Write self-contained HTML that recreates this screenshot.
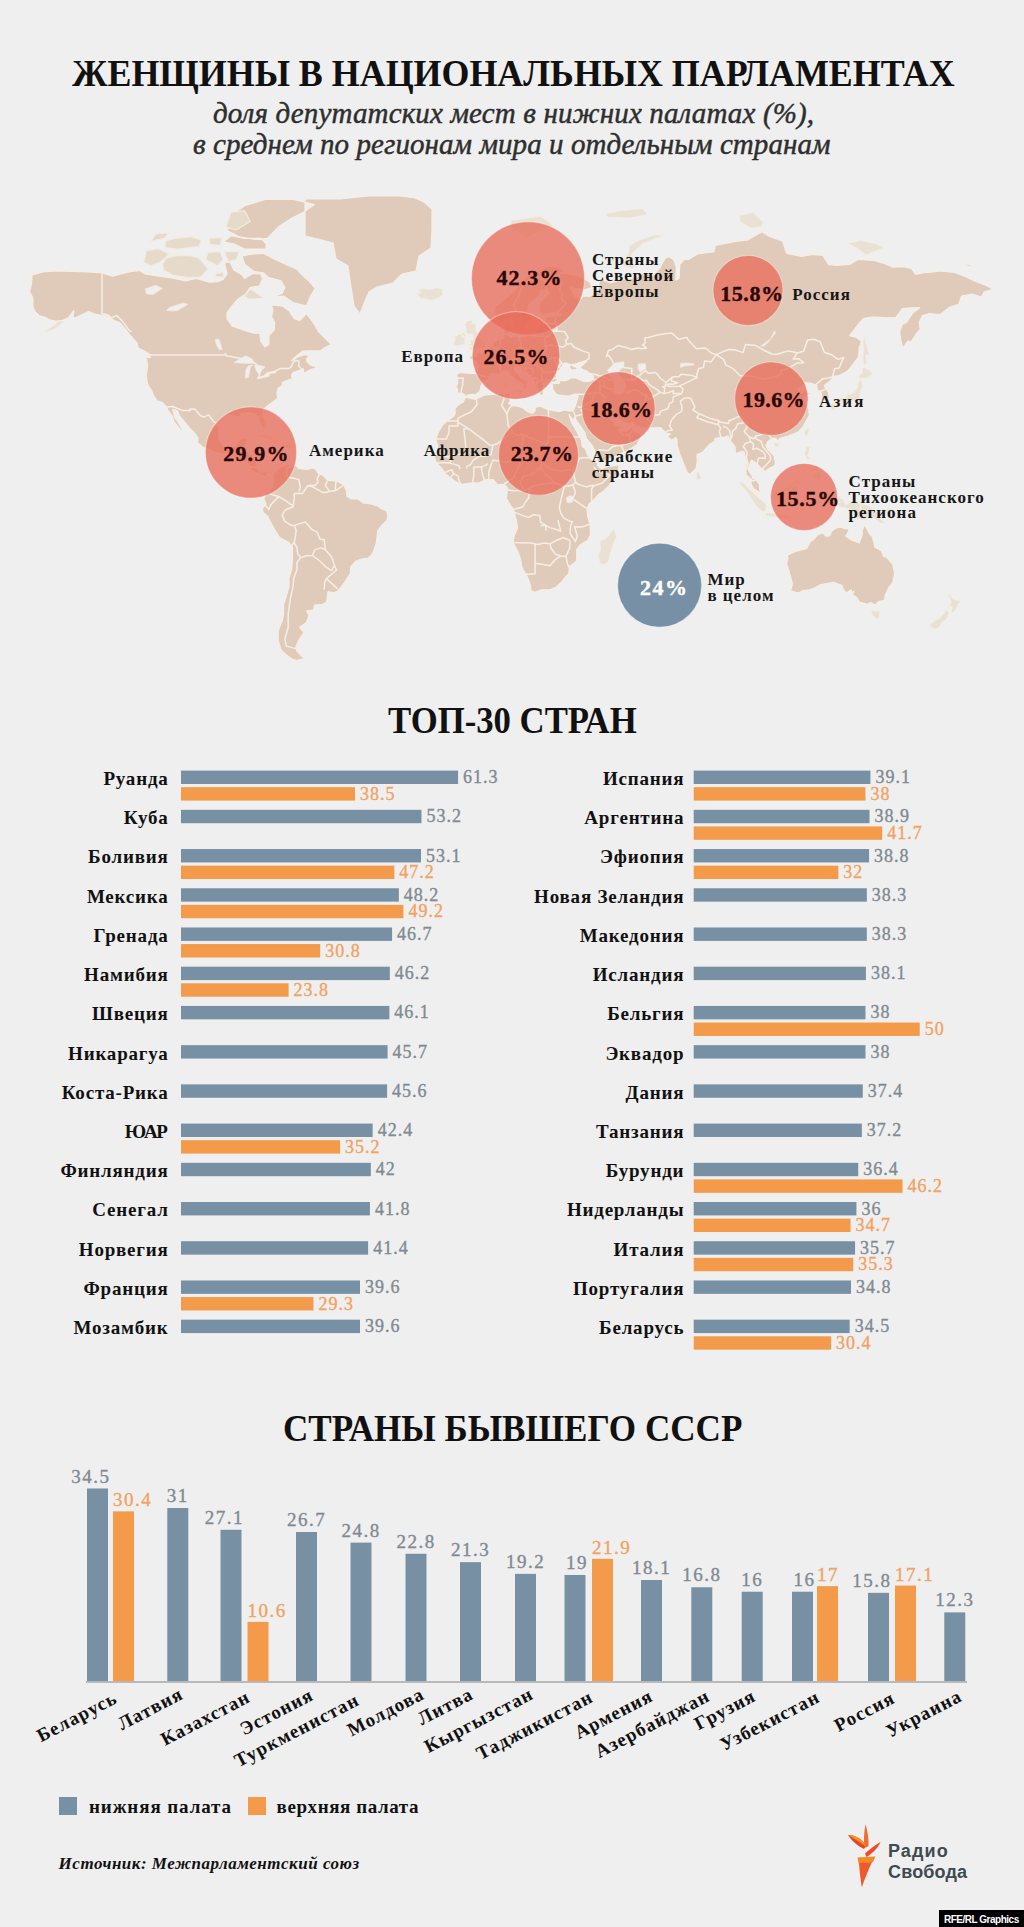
<!DOCTYPE html>
<html><head><meta charset="utf-8"><title>Женщины в национальных парламентах</title><style>
*{margin:0;padding:0;box-sizing:border-box}
html,body{width:1024px;height:1927px;background:#efefef;overflow:hidden}
body{position:relative}
.map{position:absolute;left:0;top:0}
.t{position:absolute;white-space:nowrap;line-height:0}
.bx{position:absolute}
.v{-webkit-text-stroke:0.35px currentColor}
</style></head><body>
<svg class="map" width="1024" height="1927" viewBox="0 0 1024 1927"><rect x="181" y="770.60" width="277.08" height="13.4" fill="#7890a3"/><rect x="181" y="787.20" width="174.02" height="13.4" fill="#f39a4b"/><rect x="181" y="809.82" width="240.46" height="13.4" fill="#7890a3"/><rect x="181" y="849.04" width="240.01" height="13.4" fill="#7890a3"/><rect x="181" y="865.64" width="213.34" height="13.4" fill="#f39a4b"/><rect x="181" y="888.26" width="217.86" height="13.4" fill="#7890a3"/><rect x="181" y="904.86" width="222.38" height="13.4" fill="#f39a4b"/><rect x="181" y="927.48" width="211.08" height="13.4" fill="#7890a3"/><rect x="181" y="944.08" width="139.22" height="13.4" fill="#f39a4b"/><rect x="181" y="966.70" width="208.82" height="13.4" fill="#7890a3"/><rect x="181" y="983.30" width="107.58" height="13.4" fill="#f39a4b"/><rect x="181" y="1005.92" width="208.37" height="13.4" fill="#7890a3"/><rect x="181" y="1045.14" width="206.56" height="13.4" fill="#7890a3"/><rect x="181" y="1084.36" width="206.11" height="13.4" fill="#7890a3"/><rect x="181" y="1123.58" width="191.65" height="13.4" fill="#7890a3"/><rect x="181" y="1140.18" width="159.10" height="13.4" fill="#f39a4b"/><rect x="181" y="1162.80" width="189.84" height="13.4" fill="#7890a3"/><rect x="181" y="1202.02" width="188.94" height="13.4" fill="#7890a3"/><rect x="181" y="1241.24" width="187.13" height="13.4" fill="#7890a3"/><rect x="181" y="1280.46" width="178.99" height="13.4" fill="#7890a3"/><rect x="181" y="1297.06" width="132.44" height="13.4" fill="#f39a4b"/><rect x="181" y="1319.68" width="178.99" height="13.4" fill="#7890a3"/><rect x="693.7" y="770.60" width="176.73" height="13.4" fill="#7890a3"/><rect x="693.7" y="787.20" width="171.76" height="13.4" fill="#f39a4b"/><rect x="693.7" y="809.82" width="175.83" height="13.4" fill="#7890a3"/><rect x="693.7" y="826.42" width="188.48" height="13.4" fill="#f39a4b"/><rect x="693.7" y="849.04" width="175.38" height="13.4" fill="#7890a3"/><rect x="693.7" y="865.64" width="144.64" height="13.4" fill="#f39a4b"/><rect x="693.7" y="888.26" width="173.12" height="13.4" fill="#7890a3"/><rect x="693.7" y="927.48" width="173.12" height="13.4" fill="#7890a3"/><rect x="693.7" y="966.70" width="172.21" height="13.4" fill="#7890a3"/><rect x="693.7" y="1005.92" width="171.76" height="13.4" fill="#7890a3"/><rect x="693.7" y="1022.52" width="226.00" height="13.4" fill="#f39a4b"/><rect x="693.7" y="1045.14" width="171.76" height="13.4" fill="#7890a3"/><rect x="693.7" y="1084.36" width="169.05" height="13.4" fill="#7890a3"/><rect x="693.7" y="1123.58" width="168.14" height="13.4" fill="#7890a3"/><rect x="693.7" y="1162.80" width="164.53" height="13.4" fill="#7890a3"/><rect x="693.7" y="1179.40" width="208.82" height="13.4" fill="#f39a4b"/><rect x="693.7" y="1202.02" width="162.72" height="13.4" fill="#7890a3"/><rect x="693.7" y="1218.62" width="156.84" height="13.4" fill="#f39a4b"/><rect x="693.7" y="1241.24" width="161.36" height="13.4" fill="#7890a3"/><rect x="693.7" y="1257.84" width="159.56" height="13.4" fill="#f39a4b"/><rect x="693.7" y="1280.46" width="157.30" height="13.4" fill="#7890a3"/><rect x="693.7" y="1319.68" width="155.94" height="13.4" fill="#7890a3"/><rect x="693.7" y="1336.28" width="137.41" height="13.4" fill="#f39a4b"/><rect x="86" y="1681" width="881" height="2" fill="#b9b9b9"/><rect x="87" y="1488.49" width="21" height="192.51" fill="#7890a3"/><rect x="113" y="1511.37" width="21" height="169.63" fill="#f39a4b"/><rect x="167.3" y="1508.02" width="21" height="172.98" fill="#7890a3"/><rect x="220.5" y="1529.78" width="21" height="151.22" fill="#7890a3"/><rect x="247.5" y="1621.85" width="21" height="59.15" fill="#f39a4b"/><rect x="296" y="1532.01" width="21" height="148.99" fill="#7890a3"/><rect x="350.5" y="1542.62" width="21" height="138.38" fill="#7890a3"/><rect x="405.5" y="1553.78" width="21" height="127.22" fill="#7890a3"/><rect x="460" y="1562.15" width="21" height="118.85" fill="#7890a3"/><rect x="515" y="1573.86" width="21" height="107.14" fill="#7890a3"/><rect x="564.5" y="1574.98" width="21" height="106.02" fill="#7890a3"/><rect x="592" y="1558.80" width="21" height="122.20" fill="#f39a4b"/><rect x="641" y="1580.00" width="21" height="101.00" fill="#7890a3"/><rect x="691.3" y="1587.26" width="21" height="93.74" fill="#7890a3"/><rect x="741.7" y="1591.72" width="21" height="89.28" fill="#7890a3"/><rect x="792" y="1591.72" width="21" height="89.28" fill="#7890a3"/><rect x="817" y="1586.14" width="21" height="94.86" fill="#f39a4b"/><rect x="868" y="1592.84" width="21" height="88.16" fill="#7890a3"/><rect x="895" y="1585.58" width="21" height="95.42" fill="#f39a4b"/><rect x="944.3" y="1612.37" width="21" height="68.63" fill="#7890a3"/></svg>
<div class="t" style="top:52.03px;font:normal bold 37px 'Liberation Serif',serif;color:#111;left:72.00px;transform-origin:0 0;transform:scaleX(0.9703);">ЖЕНЩИНЫ В НАЦИОНАЛЬНЫХ ПАРЛАМЕНТАХ</div>
<div class="t" style="top:96.56px;font:italic normal 29px 'Liberation Serif',serif;color:#2e2e2e;letter-spacing:0.15px;left:213.00px;-webkit-text-stroke:0.45px #2e2e2e;">доля депутатских мест в нижних палатах (%),</div>
<div class="t" style="top:128.16px;font:italic normal 29px 'Liberation Serif',serif;color:#2e2e2e;letter-spacing:0.07px;left:193.00px;-webkit-text-stroke:0.45px #2e2e2e;">в среднем по регионам мира и отдельным странам</div>
<svg class="map" width="1024" height="700" viewBox="0 0 1024 700">
<path d="M29.4,291.5 L30.7,287.5 L31.5,283.1 L32.1,274.8 L42.8,272.0 L56.3,271.0 L72.4,271.5 L88.6,272.0 L102.0,272.9 L112.8,276.2 L120.8,273.9 L131.6,271.5 L139.7,270.6 L145.1,273.9 L158.5,276.2 L172.0,278.0 L185.4,280.8 L196.2,278.5 L209.6,282.2 L217.7,281.7 L223.1,279.4 L227.1,273.9 L224.4,262.8 L229.8,261.8 L233.8,270.1 L241.9,274.8 L244.6,278.5 L252.7,273.4 L260.7,273.9 L262.6,278.5 L259.4,286.2 L250.0,287.5 L245.9,294.1 L237.9,299.2 L232.5,305.4 L227.1,312.7 L227.1,318.6 L232.5,326.3 L243.2,330.0 L252.7,333.0 L259.9,333.4 L260.7,341.0 L264.8,347.0 L268.8,344.6 L268.8,335.6 L274.2,330.0 L274.7,322.5 L271.5,316.6 L272.8,310.7 L271.5,305.0 L282.2,305.8 L289.0,310.7 L294.3,318.6 L299.7,320.5 L306.5,313.5 L314.5,324.4 L318.6,331.9 L328.0,341.0 L331.5,344.6 L325.3,347.4 L319.9,350.9 L309.1,350.9 L302.4,351.2 L295.7,356.7 L291.7,360.7 L298.4,356.7 L303.8,355.0 L307.8,355.0 L308.6,356.7 L306.5,358.7 L307.0,361.7 L310.5,365.1 L315.9,366.4 L319.9,364.4 L319.9,366.4 L310.5,369.7 L303.8,373.2 L303.2,368.4 L301.1,369.7 L293.0,372.6 L291.4,376.1 L293.0,378.7 L289.0,379.9 L282.2,382.5 L282.2,385.9 L278.2,388.1 L276.9,393.6 L277.9,398.1 L274.2,401.1 L268.8,405.0 L263.4,409.4 L262.6,414.4 L265.6,423.0 L265.0,428.1 L262.9,427.8 L259.1,421.5 L258.6,417.2 L255.3,414.4 L250.0,413.2 L244.6,412.9 L240.5,413.8 L241.4,417.0 L236.5,416.4 L229.8,415.2 L225.8,416.4 L219.8,421.0 L219.0,426.4 L218.5,431.4 L219.0,438.4 L221.7,443.7 L225.8,446.4 L227.6,447.5 L232.5,446.4 L236.5,445.6 L238.1,441.2 L238.4,439.8 L244.6,438.4 L247.8,438.4 L245.9,443.9 L244.0,446.7 L243.8,453.5 L250.0,453.8 L255.3,454.8 L257.5,456.2 L256.7,462.9 L256.1,467.0 L259.4,471.0 L263.4,472.8 L267.4,471.0 L272.8,473.4 L273.4,475.5 L270.9,474.2 L267.4,472.8 L266.1,476.8 L262.1,475.0 L258.0,474.2 L250.8,469.9 L250.5,467.0 L245.9,461.9 L240.5,460.2 L235.2,458.9 L231.1,454.8 L227.1,452.9 L221.7,454.3 L216.3,452.7 L209.6,449.9 L202.9,447.2 L197.5,442.6 L198.0,438.1 L195.1,433.7 L189.4,427.8 L184.1,421.5 L179.5,415.8 L177.3,410.6 L172.8,409.4 L174.6,417.2 L178.7,423.0 L182.7,430.0 L186.7,434.2 L184.6,432.8 L180.0,429.2 L174.1,421.5 L172.0,415.8 L167.9,410.0 L166.0,406.5 L162.5,402.6 L156.9,400.8 L153.4,395.1 L151.8,391.1 L148.3,385.9 L146.9,381.2 L146.4,374.8 L147.7,365.1 L145.9,357.0 L150.4,357.7 L149.9,354.6 L145.1,351.6 L138.3,348.1 L137.0,342.8 L130.3,335.6 L126.2,330.0 L119.5,322.5 L114.1,320.5 L106.0,315.5 L96.6,314.7 L88.6,311.5 L81.8,314.7 L76.5,317.4 L73.0,317.8 L73.8,310.7 L68.4,317.8 L61.7,320.9 L56.3,321.3 L49.6,319.8 L45.0,317.4 L38.8,315.5 L34.8,311.5 L32.6,305.4 L33.1,300.4 L32.1,296.2 L30.5,293.6Z M272.8,473.4 L276.9,471.0 L278.2,468.3 L280.9,467.0 L284.9,465.6 L288.2,463.2 L289.5,465.6 L288.2,468.3 L290.3,467.5 L293.0,464.3 L297.0,466.2 L298.4,468.3 L306.5,469.4 L313.2,468.0 L315.9,469.6 L318.6,473.6 L322.6,475.0 L328.0,480.3 L336.0,480.8 L341.4,483.5 L344.1,485.6 L346.8,491.4 L346.8,496.2 L350.8,498.8 L357.6,498.8 L362.9,502.8 L371.0,503.9 L377.7,506.0 L381.8,508.9 L386.6,510.8 L387.7,515.0 L387.2,520.1 L381.8,525.4 L377.7,530.8 L376.4,543.0 L374.5,548.5 L372.4,554.0 L368.3,558.2 L361.6,559.0 L356.2,561.0 L350.8,566.6 L350.3,573.7 L345.5,581.0 L340.1,588.3 L337.4,591.3 L333.4,592.8 L328.0,591.6 L327.4,596.7 L326.6,601.9 L322.6,604.3 L314.5,605.0 L313.7,609.9 L306.5,611.2 L309.1,615.3 L306.5,622.4 L299.7,627.3 L303.8,632.3 L298.4,640.8 L295.7,647.8 L297.0,651.4 L302.4,656.8 L305.6,658.3 L301.1,659.4 L297.0,660.5 L291.7,658.7 L286.3,655.0 L280.9,649.6 L278.2,640.8 L278.2,630.7 L282.2,620.8 L283.6,614.4 L283.6,605.0 L286.3,595.8 L289.0,586.8 L289.0,578.0 L291.7,569.4 L292.5,558.2 L292.5,547.1 L289.0,542.5 L279.6,537.6 L276.1,532.2 L271.5,524.1 L267.4,516.1 L262.9,512.1 L262.6,508.1 L266.1,504.1 L263.7,498.8 L266.1,494.3 L268.8,492.2 L270.1,489.6 L272.8,485.6 L273.4,479.0Z M465.4,397.2 L475.9,399.3 L484.0,395.1 L494.8,394.2 L505.5,393.0 L510.9,393.6 L509.5,396.6 L510.4,401.1 L508.7,403.2 L512.2,405.6 L517.6,406.2 L522.5,407.6 L527.0,411.4 L532.4,413.5 L535.1,410.9 L535.1,407.6 L540.5,405.9 L544.0,407.9 L548.5,409.7 L559.3,411.7 L564.7,410.0 L568.2,410.9 L573.3,410.6 L575.2,415.8 L573.6,420.7 L569.0,414.6 L571.4,422.1 L576.8,431.4 L581.4,439.8 L582.2,446.7 L585.1,448.0 L587.6,454.8 L592.1,459.4 L597.8,462.9 L597.5,465.6 L601.0,468.6 L607.7,466.7 L619.3,464.8 L618.5,468.3 L618.0,472.3 L613.1,480.3 L609.1,485.6 L603.7,490.9 L598.3,494.9 L592.9,500.7 L588.9,504.1 L587.0,509.4 L587.6,516.1 L590.0,524.1 L590.5,534.9 L587.6,540.3 L580.8,544.4 L576.5,549.8 L576.8,555.4 L576.8,561.0 L569.8,566.3 L568.7,573.7 L564.7,578.0 L562.0,581.8 L556.6,586.8 L550.2,589.8 L541.8,589.8 L535.1,592.2 L530.8,590.7 L530.5,585.4 L527.8,578.0 L525.7,574.0 L522.2,568.0 L520.3,558.2 L517.6,551.2 L513.0,542.5 L514.4,534.9 L517.6,528.1 L516.3,520.1 L514.1,512.1 L513.6,509.4 L510.9,506.3 L506.3,498.1 L506.9,493.6 L507.7,488.3 L504.2,484.3 L500.1,484.5 L497.4,484.8 L493.4,479.5 L486.7,479.5 L478.6,483.0 L473.2,482.7 L461.1,484.5 L455.7,481.6 L450.4,477.9 L445.5,473.6 L440.9,467.5 L436.4,463.2 L434.2,457.0 L436.9,453.5 L437.7,445.3 L435.6,439.8 L438.3,432.3 L442.3,425.5 L446.3,421.3 L454.4,415.8 L455.2,412.9 L454.9,408.5 L458.4,404.7 L463.0,402.3Z M466.2,396.6 L464.1,394.2 L461.1,393.0 L457.4,393.6 L457.6,388.4 L455.7,388.1 L457.9,382.5 L457.4,378.0 L456.3,374.8 L459.8,372.6 L467.9,373.2 L476.5,373.6 L477.8,370.0 L478.1,365.1 L475.4,361.1 L469.5,358.7 L468.7,356.4 L473.2,355.7 L477.0,356.4 L476.5,352.6 L481.8,353.3 L485.3,350.9 L488.0,347.7 L492.1,346.0 L494.2,341.4 L499.6,339.6 L504.4,337.7 L503.1,331.9 L503.4,327.0 L509.8,323.6 L509.5,328.2 L510.9,331.9 L508.2,334.8 L510.6,337.4 L514.9,335.9 L519.5,337.7 L524.3,336.3 L531.1,334.8 L534.8,335.6 L538.1,330.8 L537.8,327.0 L541.8,323.6 L546.4,325.1 L545.9,321.3 L544.5,317.8 L551.2,316.2 L558.0,315.5 L562.5,315.1 L558.0,312.7 L551.2,313.1 L543.2,315.1 L539.1,311.5 L539.1,306.6 L540.5,301.7 L547.2,294.9 L549.9,293.2 L546.4,290.6 L541.3,290.6 L538.6,296.2 L533.8,300.4 L528.6,304.6 L527.8,310.7 L531.9,314.7 L531.1,317.4 L525.7,324.4 L524.3,329.3 L519.8,331.9 L516.0,332.3 L514.9,328.9 L513.0,322.5 L510.9,318.6 L509.5,316.6 L506.9,318.6 L500.1,322.5 L496.1,319.4 L494.8,312.7 L494.8,306.6 L500.1,302.5 L508.2,296.2 L514.9,289.7 L519.0,283.1 L524.3,278.5 L529.7,273.4 L537.8,270.6 L548.5,266.2 L558.0,267.2 L564.7,270.1 L562.0,272.9 L570.1,274.3 L579.5,276.2 L590.2,282.2 L591.9,287.5 L584.9,289.7 L574.1,288.4 L570.1,286.6 L574.9,296.2 L580.8,298.7 L583.5,295.8 L590.2,296.2 L598.3,288.8 L599.7,278.5 L605.0,280.8 L610.4,282.6 L623.9,279.4 L627.9,279.4 L637.3,276.7 L644.0,272.5 L653.5,275.3 L660.2,267.7 L661.5,264.3 L665.6,257.9 L669.1,256.8 L673.6,259.4 L676.3,266.7 L675.8,279.9 L679.0,278.5 L679.8,264.3 L684.4,259.4 L688.4,259.4 L697.8,253.8 L714.0,251.7 L715.3,245.4 L736.9,241.1 L747.6,240.1 L761.9,231.7 L769.1,236.2 L782.6,241.1 L786.6,253.3 L801.4,256.3 L812.2,254.3 L822.9,255.3 L828.3,264.3 L836.4,265.3 L849.8,264.3 L857.9,259.4 L874.0,260.4 L884.8,263.8 L892.9,267.2 L903.6,266.7 L911.7,268.7 L915.7,274.3 L922.5,272.9 L933.2,272.0 L939.9,271.0 L954.7,272.5 L965.5,276.7 L976.3,281.7 L987.0,285.7 L993.2,289.3 L984.3,291.9 L981.6,297.0 L972.2,294.1 L961.5,296.2 L958.8,304.2 L949.4,307.4 L939.9,314.7 L929.2,313.5 L922.5,315.5 L919.2,322.5 L920.3,329.3 L916.5,333.7 L911.7,341.0 L907.7,341.4 L902.8,348.1 L900.9,341.0 L899.6,331.9 L902.3,324.4 L906.3,322.5 L913.0,312.7 L919.8,307.8 L911.7,307.8 L902.3,308.7 L895.6,317.8 L887.5,317.8 L880.8,317.4 L871.4,317.0 L863.3,318.6 L859.2,323.2 L849.8,335.6 L856.6,337.4 L861.4,341.0 L859.2,348.1 L858.7,356.7 L853.9,363.4 L847.1,371.6 L839.1,375.5 L833.7,376.4 L830.2,381.2 L825.6,384.3 L824.3,385.9 L828.3,392.1 L829.4,398.1 L822.9,400.8 L821.0,401.1 L821.6,395.1 L820.8,391.4 L817.5,390.5 L816.7,385.3 L809.5,382.8 L807.3,388.1 L808.1,382.8 L805.4,382.8 L800.1,387.4 L797.9,389.0 L801.4,393.0 L805.4,391.4 L810.8,393.0 L804.1,398.1 L805.4,404.1 L808.9,409.1 L808.9,412.0 L809.5,414.9 L806.8,420.1 L802.8,427.2 L797.4,432.6 L788.8,435.9 L779.9,438.4 L777.2,441.2 L775.9,438.4 L771.8,438.4 L767.8,441.7 L765.9,445.3 L767.8,449.4 L773.7,455.4 L775.3,461.6 L775.0,465.6 L769.1,468.6 L765.1,471.2 L763.2,473.4 L763.8,469.6 L761.1,468.3 L757.0,463.7 L751.6,460.2 L750.3,462.9 L748.1,469.6 L751.1,474.2 L753.0,478.2 L756.2,479.8 L759.4,484.3 L759.7,489.6 L761.6,492.5 L759.2,492.2 L753.8,488.8 L751.1,484.3 L751.1,479.0 L746.3,475.0 L745.7,469.6 L746.5,461.6 L744.1,452.1 L742.2,451.3 L735.5,453.5 L735.0,446.7 L732.8,443.9 L729.6,439.8 L728.2,435.9 L724.7,437.0 L720.7,437.6 L715.3,438.4 L714.8,441.2 L710.0,443.9 L702.7,452.1 L697.0,454.8 L697.3,461.6 L696.0,468.8 L691.7,472.6 L689.8,474.7 L687.1,472.3 L684.4,465.6 L682.2,460.2 L679.8,454.0 L677.1,445.3 L676.9,439.8 L675.8,437.6 L671.8,440.3 L666.9,436.2 L670.4,434.2 L665.6,432.8 L662.3,429.2 L660.2,427.5 L653.5,427.8 L646.7,428.1 L639.5,427.2 L635.4,426.4 L633.3,422.7 L627.9,424.1 L622.5,421.5 L618.0,417.8 L615.8,413.8 L611.8,414.4 L610.4,415.8 L611.8,420.1 L614.5,423.5 L616.3,425.8 L619.0,425.5 L620.1,427.8 L618.5,430.0 L620.1,430.9 L626.6,431.2 L630.6,427.8 L632.5,425.2 L633.0,428.9 L636.0,432.0 L639.5,432.8 L642.2,435.6 L638.7,441.2 L636.8,445.3 L634.1,446.4 L630.1,449.4 L622.5,452.9 L613.1,457.5 L602.4,462.1 L598.3,462.4 L596.4,457.5 L595.9,453.5 L592.1,445.3 L586.2,438.4 L584.9,432.8 L582.2,428.6 L576.0,420.1 L575.2,415.8 L573.3,410.6 L575.2,406.2 L576.8,401.1 L577.9,398.1 L578.1,394.2 L574.1,394.2 L568.7,396.3 L563.3,395.7 L556.6,394.5 L554.7,392.1 L552.6,389.0 L552.6,385.9 L551.8,384.0 L555.3,383.4 L559.3,383.1 L559.6,380.6 L566.0,380.6 L571.4,378.0 L576.0,378.0 L583.5,381.5 L590.2,381.2 L593.2,379.3 L593.2,376.1 L587.6,371.6 L582.2,369.3 L579.8,367.4 L583.5,364.4 L586.7,361.1 L582.2,361.7 L575.5,364.1 L571.7,364.7 L574.1,366.7 L578.1,367.7 L576.0,369.7 L571.4,370.0 L569.0,367.0 L570.9,365.1 L566.0,363.1 L563.9,363.4 L561.2,367.7 L558.5,371.0 L556.6,374.2 L556.6,378.7 L559.0,380.2 L552.6,382.5 L549.9,381.5 L545.9,381.8 L543.2,383.4 L542.4,382.8 L544.5,385.9 L542.6,387.7 L545.9,389.9 L543.2,390.8 L543.7,395.1 L541.8,395.4 L539.7,394.2 L538.1,391.1 L538.6,389.3 L537.0,387.1 L534.8,385.0 L533.5,381.2 L533.5,378.0 L531.1,376.4 L527.0,373.9 L523.0,371.6 L521.1,368.4 L517.9,367.7 L518.2,366.1 L514.4,367.4 L514.7,370.6 L517.9,373.2 L520.8,377.7 L524.3,379.6 L528.4,381.8 L531.1,384.0 L527.0,382.8 L525.7,385.3 L527.3,387.4 L524.3,390.5 L523.3,389.6 L523.5,384.3 L520.3,382.5 L516.3,380.6 L512.2,377.1 L509.5,374.8 L508.2,371.6 L504.2,370.6 L501.5,372.3 L498.8,374.5 L493.4,373.6 L489.9,374.2 L489.6,377.4 L489.4,378.7 L483.5,381.2 L481.3,385.0 L480.5,389.0 L479.4,391.7 L475.9,394.5 L469.2,394.5Z M786.9,555.4 L788.5,554.8 L795.5,551.5 L801.4,549.8 L806.8,548.5 L810.3,541.6 L813.5,539.7 L817.5,534.9 L822.9,533.0 L826.2,536.2 L829.7,535.9 L831.5,531.3 L835.0,528.7 L839.1,527.0 L845.8,528.7 L849.3,528.7 L848.5,531.6 L845.8,536.2 L852.0,540.3 L859.2,543.0 L861.9,536.2 L862.5,529.5 L864.6,524.6 L867.3,529.5 L869.7,534.3 L872.2,536.2 L874.0,543.0 L874.8,547.1 L881.6,550.7 L883.5,556.2 L887.0,557.6 L892.9,564.6 L894.5,574.0 L892.9,582.4 L888.8,587.4 L885.3,595.2 L884.5,600.3 L878.1,601.9 L875.1,605.3 L870.8,602.5 L867.3,604.3 L859.2,601.9 L856.6,597.3 L852.5,594.9 L853.9,591.3 L851.7,593.1 L851.2,589.8 L847.1,592.8 L844.5,591.3 L841.8,585.4 L833.7,582.4 L820.2,584.8 L814.9,587.7 L809.5,589.8 L802.8,590.7 L798.2,593.1 L790.6,590.7 L792.5,583.9 L790.6,576.6 L788.0,568.0 L786.6,563.8 L788.0,558.2Z M306.5,305.8 L310.5,296.2 L315.3,288.4 L309.1,281.2 L301.1,273.9 L297.0,269.1 L287.6,265.3 L274.2,258.9 L263.4,253.3 L250.0,254.3 L241.9,255.8 L244.6,264.3 L254.0,271.5 L263.4,272.9 L268.8,277.6 L280.9,280.8 L284.9,287.5 L282.2,293.2 L272.8,297.0 L283.6,296.2 L293.0,302.5 L301.1,304.6Z M239.2,236.8 L255.3,239.5 L267.4,238.4 L278.2,227.1 L291.7,218.3 L303.8,212.1 L314.5,204.5 L293.0,199.3 L266.1,199.3 L244.6,205.8 L233.8,213.4 L241.9,221.3 L225.8,230.0 L233.8,234.0Z M266.1,249.1 L244.6,249.1 L233.8,243.8 L223.1,242.2 L231.1,235.6 L244.6,238.4 L260.7,238.4 L266.1,243.8Z M305.0,199.0 L340.0,199.0 L368.0,196.0 L400.0,196.0 L415.0,198.0 L424.0,202.0 L432.0,209.0 L432.0,230.0 L431.0,248.0 L419.0,256.0 L416.0,271.0 L402.0,274.0 L393.0,283.0 L377.0,287.0 L369.0,292.0 L365.0,301.0 L360.0,314.0 L354.0,306.0 L351.0,287.0 L348.0,266.0 L336.0,259.0 L333.0,243.0 L318.0,239.0 L305.0,236.0Z" fill="#e0cbba" stroke="#f6efe6" stroke-width="1.2" stroke-linejoin="round"/>
<path d="M162.5,264.3 L166.6,257.9 L177.3,255.3 L190.8,255.8 L198.9,257.9 L208.3,269.1 L200.2,277.1 L188.1,277.6 L173.3,275.3 L163.9,270.6Z M143.7,262.3 L146.4,250.7 L158.5,248.6 L169.3,254.3 L159.8,262.3 L150.4,265.8Z M165.2,247.6 L177.3,249.1 L198.9,246.5 L201.5,240.1 L190.8,236.8 L174.6,238.4 L165.2,241.1Z M208.3,252.3 L220.4,251.7 L223.1,259.4 L217.7,265.8 L205.6,259.4Z M224.4,251.7 L239.2,251.7 L236.5,259.4 L228.4,261.8Z M209.6,244.4 L220.4,245.4 L221.7,237.9 L209.6,237.9Z M225.8,227.1 L236.5,230.0 L250.0,221.3 L244.6,210.9 L231.1,212.1Z M248.6,299.2 L263.4,298.3 L255.3,291.9 L250.0,288.8 L244.6,296.2Z M215.0,276.7 L224.4,277.1 L223.1,272.5 L216.3,273.4Z M150.4,241.7 L163.9,238.4 L169.3,232.8 L155.8,234.0Z" fill="#e6dacb" stroke="#f1ebe2" stroke-width="1.2" stroke-linejoin="round"/>
<path d="M466.0,351.6 L473.2,349.5 L484.8,347.4 L485.9,342.4 L482.1,339.6 L480.5,337.0 L477.3,331.9 L475.7,328.2 L476.5,324.0 L471.9,323.6 L473.2,320.1 L467.9,320.1 L464.6,324.4 L466.2,328.9 L465.2,332.6 L468.7,334.5 L472.4,334.1 L472.7,337.0 L473.2,339.9 L468.9,339.9 L470.5,342.8 L467.3,345.3 L472.7,346.7 L466.5,346.7 L470.0,347.7Z M465.2,344.2 L465.2,337.7 L466.5,335.6 L464.4,332.6 L461.1,332.6 L458.4,334.5 L454.4,336.7 L454.9,339.2 L453.1,344.2 L455.7,346.3 L459.8,345.6Z M420.8,298.7 L416.7,294.5 L420.8,291.9 L416.7,291.0 L422.1,288.0 L428.8,289.3 L436.9,287.5 L442.3,288.8 L442.3,293.2 L444.7,294.1 L439.6,297.5 L431.5,300.8 L424.8,299.2Z M510.9,227.1 L521.6,235.6 L527.0,238.4 L540.5,231.1 L553.9,225.4 L540.5,215.8 L524.3,218.3 L510.9,220.1Z M621.2,265.3 L631.9,268.7 L636.0,268.2 L631.9,261.8 L631.9,254.3 L642.7,243.8 L656.1,238.4 L666.9,235.6 L656.1,234.5 L640.0,239.5 L629.2,245.4 L627.9,254.3 L623.9,259.4Z M739.5,221.3 L750.3,228.3 L761.1,227.1 L763.8,222.4 L753.0,212.1 L739.5,215.2Z M607.7,217.1 L629.2,218.3 L648.1,214.6 L642.7,208.4 L621.2,210.3 L605.0,213.4Z M847.1,243.3 L857.9,249.1 L866.0,255.3 L884.8,247.6 L876.7,243.8 L860.6,240.1Z M968.2,266.7 L974.9,267.2 L969.5,263.8 L964.2,264.3Z M863.3,365.1 L867.3,363.4 L866.0,355.0 L870.0,355.0 L866.0,342.8 L864.9,336.3 L862.7,341.0 L863.3,348.1 L862.7,358.4Z M857.9,379.6 L861.1,378.7 L867.3,378.0 L873.0,373.9 L871.4,371.0 L862.7,366.7 L861.9,373.2 L859.2,374.8Z M833.4,402.6 L837.7,402.9 L844.5,403.5 L849.3,401.1 L854.7,400.5 L857.4,399.6 L860.1,397.5 L860.6,392.1 L863.3,385.9 L861.7,379.9 L857.9,381.8 L857.4,387.4 L853.9,392.1 L849.8,394.2 L848.5,392.7 L845.8,398.1 L839.1,397.8 L833.7,400.8Z M833.4,402.6 L836.1,405.0 L834.5,410.3 L831.5,410.9 L830.5,406.5 L829.9,404.4Z M837.7,405.6 L843.1,404.4 L843.4,402.0 L839.1,402.0Z M806.8,428.1 L809.5,428.6 L808.1,434.2 L806.3,437.3 L804.4,434.2 L804.6,430.9Z M773.4,444.8 L775.9,447.5 L778.5,446.4 L779.9,443.4 L778.0,442.3 L774.5,442.8Z M696.0,475.0 L696.5,470.2 L698.9,472.3 L701.6,477.6 L700.0,479.8 L696.8,480.3Z M252.9,437.3 L260.7,434.0 L268.8,435.6 L274.2,439.2 L281.7,442.0 L272.8,442.8 L271.5,440.6 L264.8,437.6 L258.0,437.0Z M281.2,446.9 L285.5,442.8 L293.0,443.1 L297.3,446.4 L289.5,449.1 L285.5,447.8Z M270.7,447.2 L276.1,447.8 L274.7,448.3 L271.5,447.8Z M300.5,446.7 L304.8,446.9 L304.3,448.0 L300.5,448.0Z M737.7,481.4 L743.6,482.4 L750.3,489.6 L760.3,498.8 L766.4,504.1 L765.9,511.6 L762.4,511.8 L756.5,506.8 L751.1,498.8 L746.8,491.7 L742.2,486.9Z M764.3,514.2 L767.8,512.1 L772.6,512.9 L779.9,513.2 L784.2,514.5 L789.3,516.6 L789.0,519.3 L779.9,518.0 L771.8,516.9 L766.4,515.8Z M790.6,517.7 L793.3,518.8 L798.7,518.2 L801.4,519.0 L805.4,518.2 L811.6,518.2 L810.8,519.6 L801.4,520.1 L793.3,520.1 L790.6,519.6Z M813.5,523.6 L817.5,520.1 L823.5,518.5 L820.2,520.6 L816.2,523.3Z M774.5,492.2 L776.1,490.9 L779.9,492.0 L785.3,488.0 L792.0,483.0 L795.5,477.9 L797.9,480.3 L801.9,482.2 L798.7,484.8 L798.2,493.6 L801.4,493.8 L797.4,496.2 L794.7,501.5 L794.1,506.3 L789.3,506.8 L785.3,504.7 L781.2,504.1 L777.2,502.8 L777.2,498.8 L774.5,496.2Z M801.4,510.8 L802.8,505.5 L800.9,503.3 L802.8,496.2 L805.4,494.9 L812.2,493.6 L817.5,492.2 L814.9,495.1 L806.8,495.1 L812.7,498.3 L808.1,501.0 L813.5,506.8 L810.8,510.5 L806.8,504.1 L805.2,510.8Z M824.3,491.4 L827.0,492.2 L825.6,496.2 L828.0,498.1 L824.5,497.5Z M825.1,504.1 L832.3,504.9 L832.3,506.5 L826.2,505.7Z M833.7,498.8 L837.7,497.3 L842.3,498.8 L845.8,504.7 L852.0,500.2 L860.6,503.1 L870.0,506.3 L874.0,510.8 L878.9,512.6 L878.1,516.9 L884.3,521.7 L887.0,524.1 L879.4,523.0 L874.0,518.0 L868.7,516.6 L866.0,520.1 L860.6,520.4 L855.2,517.7 L853.9,515.6 L852.5,510.5 L844.5,507.9 L839.1,506.8 L836.4,503.6 L840.4,502.0 L836.4,501.5Z M880.2,510.8 L884.8,510.8 L888.8,507.6 L891.0,507.6 L888.8,510.8 L884.8,512.9 L880.8,512.1Z M805.7,446.7 L810.0,446.7 L809.5,450.8 L808.1,455.4 L810.8,458.9 L815.4,461.6 L813.5,462.4 L810.8,459.4 L806.0,459.7 L805.4,456.7 L803.6,452.7 L805.2,451.3Z M809.5,477.6 L813.5,475.5 L816.2,472.8 L818.9,470.4 L821.3,474.2 L820.8,479.5 L818.1,481.4 L814.9,479.5 L812.2,476.6Z M809.2,464.8 L812.7,468.0 L815.4,465.6 L818.9,466.4 L817.5,469.6 L814.9,470.7 L811.6,471.8 L809.5,468.3Z M796.6,474.2 L801.1,468.8 L803.0,466.2 L801.9,468.3 L798.2,472.8Z M870.3,610.3 L880.2,610.9 L879.4,618.2 L876.2,619.5 L872.2,615.3Z M945.9,591.0 L950.7,595.2 L953.4,598.8 L961.5,601.0 L957.4,605.9 L956.1,609.6 L952.6,613.1 L951.0,611.8 L952.0,607.4 L948.8,605.9 L951.0,601.9 L949.4,597.3Z M945.9,609.6 L949.4,612.2 L948.0,616.9 L945.9,620.1 L941.8,622.4 L939.9,627.0 L935.9,629.3 L929.2,627.3 L930.0,624.0 L934.0,620.8 L939.9,617.6 L944.0,612.8Z M514.7,390.2 L523.3,389.6 L521.9,394.5 L514.9,391.7Z M503.4,381.5 L507.7,380.9 L507.1,386.8 L504.4,387.7 L503.9,385.0Z M504.4,375.2 L506.6,374.8 L506.9,378.0 L506.0,379.9 L504.4,378.3Z M544.5,398.7 L552.0,398.7 L551.8,399.6 L547.2,399.6 L544.5,399.0Z M568.2,399.6 L574.4,397.5 L572.5,399.9 L569.0,400.8Z M613.9,528.1 L617.1,537.6 L614.5,541.6 L611.8,549.8 L608.3,562.4 L603.7,565.2 L599.7,563.2 L597.8,555.4 L600.5,549.8 L599.7,541.6 L605.0,538.4 L609.1,534.9 L611.2,531.6Z M65.7,320.9 L59.0,326.3 L53.6,330.0 L46.9,331.9 L40.1,334.8 L45.5,330.8 L54.9,324.4 L57.6,320.9Z" fill="#e9e2d4" stroke="#f2eee6" stroke-width="1.2" stroke-linejoin="round"/>
<path d="M607.7,370.0 L614.5,363.1 L623.9,361.7 L624.1,367.4 L619.6,369.7 L618.5,374.5 L623.3,379.6 L626.0,383.7 L623.9,392.4 L618.5,394.5 L613.1,391.7 L614.5,383.4 L611.8,378.7 L609.1,374.8Z M638.1,364.1 L645.4,363.4 L646.2,368.4 L640.0,372.3 L638.1,368.4Z M233.8,362.7 L239.2,363.1 L245.9,363.4 L253.7,363.4 L252.7,359.1 L245.9,355.7 L240.5,358.4Z M245.1,378.0 L248.6,377.4 L250.5,366.7 L252.7,365.1 L248.6,365.4 L245.9,369.7Z M254.0,365.7 L259.4,365.4 L265.3,366.7 L262.1,370.0 L259.4,374.8 L256.7,371.6 L255.3,367.7Z M257.2,379.0 L268.8,376.4 L268.3,373.9 L276.3,372.9 L274.7,371.0 L267.4,372.3 L263.4,375.8 L258.0,377.4Z M219.0,349.8 L222.3,349.5 L219.0,339.2 L215.0,339.2 L216.3,344.6Z M166.6,310.7 L177.3,310.7 L188.1,304.2 L182.7,302.9 L169.3,307.4Z M146.4,294.1 L153.1,294.5 L162.5,288.4 L155.8,285.3 L145.1,288.8Z M760.5,346.0 L763.8,346.3 L767.8,342.8 L775.9,332.6 L774.5,330.8 L770.5,338.8 L766.4,341.7Z M566.6,497.5 L570.6,495.4 L573.0,497.0 L572.5,502.0 L567.9,503.1 L566.3,500.2Z M680.4,363.4 L685.7,363.1 L693.8,363.4 L693.8,365.1 L684.4,366.1 L680.4,367.7Z" fill="#efefef" stroke="#f3e6da" stroke-width="0.6"/>
<path d="M149.6,355.0 L225.2,355.0 L225.2,353.6 L226.8,356.0 L231.1,356.4 L240.3,358.4 L253.2,362.1 L255.1,363.4 L259.4,367.4 L259.6,374.8 L258.0,378.0 L268.8,375.5 L268.5,373.9 L275.5,371.0 L280.4,368.4 L289.0,368.4 L291.1,367.0 L293.0,362.7 L295.2,360.4 L297.8,360.7 L298.9,361.4 L298.9,366.1 L301.1,369.0 M102.0,273.4 L102.0,313.5 L107.4,314.7 L111.4,317.8 L116.8,315.5 L122.2,320.9 L128.9,330.0 L131.6,331.9 M166.3,407.0 L172.8,406.5 L182.7,410.6 L190.2,410.6 L190.2,409.1 L194.8,409.1 L200.2,415.5 L204.2,417.2 L208.5,414.9 L213.6,421.5 L219.8,426.1 M233.3,457.5 L233.3,455.7 L234.6,453.5 L238.1,453.5 L238.1,448.6 L241.6,448.6 L243.8,446.7 M241.4,448.6 L241.4,453.8 L244.0,454.3 M238.9,459.7 L241.1,457.8 L243.2,458.9 L245.1,460.5 M246.5,461.6 L248.1,459.4 L250.8,458.9 L252.9,456.7 L257.5,456.2 M250.8,466.7 L255.3,467.5 L256.4,467.2 M258.3,474.7 L259.1,471.0 M271.7,477.1 L273.6,473.4 M287.1,466.7 L286.3,473.6 L287.6,477.6 L292.7,477.9 L298.9,479.8 L300.3,487.5 L298.9,491.4 M319.9,473.6 L317.2,478.2 L318.0,482.4 L314.5,485.6 L309.1,485.3 M327.4,480.6 L325.3,485.6 L329.3,490.9 M336.0,481.1 L335.2,490.1 M342.8,485.6 L336.0,490.4 L330.7,491.2 L323.9,492.8 L319.9,490.9 L311.8,486.4 L307.8,485.6 L302.4,493.6 L294.3,493.6 L294.3,498.8 L293.0,506.8 L285.2,510.0 L282.2,515.6 L284.9,521.4 L291.4,525.4 L294.3,525.4 L305.4,522.0 L311.8,529.5 L317.2,532.2 L319.9,538.9 L324.2,539.7 L325.3,549.8 L331.7,557.0 L334.4,565.2 L336.6,570.0 L326.4,578.6 L337.7,588.9 M268.8,493.0 L273.1,495.1 L278.7,496.5 L283.6,499.4 L292.7,505.7 M265.3,505.2 L268.8,509.4 L270.7,504.9 L278.7,496.5 M294.3,525.4 L296.2,530.5 L295.2,537.6 L294.1,542.5 L291.9,545.2 M294.3,543.0 L297.0,547.6 L297.8,554.0 L300.8,557.6 M300.8,557.6 L297.0,562.4 L297.0,569.4 L293.8,578.0 L293.0,586.8 L290.3,598.8 L288.2,614.4 L288.2,627.3 L284.9,639.1 L286.3,646.1 L295.7,648.6 M300.8,557.6 L306.5,555.7 L312.4,555.4 L314.8,549.6 L321.2,547.9 L324.7,549.3 M312.9,555.9 L319.9,561.0 L325.3,566.6 L331.5,570.6 L334.4,565.5 M324.2,589.5 L324.7,582.4 L326.4,578.6 M476.5,399.6 L477.0,404.7 L471.3,411.7 L457.9,418.1 L457.9,421.0 M457.9,421.0 L445.8,421.0 M457.9,421.0 L457.9,426.1 L449.0,426.1 L449.0,432.8 L446.3,439.0 L435.6,439.0 M457.9,422.1 L468.4,428.6 L463.8,428.9 L466.5,453.5 L450.4,455.1 L448.5,457.3 L436.9,452.9 M504.4,393.9 L503.4,401.1 L501.5,405.0 L506.9,413.8 L508.2,425.8 L512.2,430.9 M512.2,405.3 L509.0,408.5 L506.9,413.8 M468.4,428.6 L484.5,440.6 L489.9,445.3 L492.9,445.0 L497.4,443.7 L512.2,432.8 L512.2,430.9 M512.2,432.8 L519.0,435.6 L521.6,434.2 L545.9,443.9 L545.9,442.6 L548.5,442.6 L548.5,437.0 L548.5,409.7 M548.5,437.0 L566.0,437.0 L580.6,437.0 M492.9,445.0 L491.0,454.8 L484.0,456.2 L481.3,456.5 L480.0,455.9 M466.5,453.5 L467.0,454.8 M450.4,455.1 L450.6,463.2 L459.0,465.6 L460.0,469.1 M466.5,468.6 L466.8,466.4 L470.5,464.6 L473.5,460.0 L480.0,455.9 M491.0,465.1 L492.9,460.0 L499.6,461.3 L505.5,462.1 L514.9,461.1 L519.0,461.3 M523.0,434.2 L523.0,440.6 L517.6,458.9 L519.0,461.3 M545.9,443.9 L545.9,454.3 L541.8,458.9 L541.8,462.7 L540.5,467.0 L544.5,473.1 M523.0,476.3 L529.7,475.0 L535.1,472.3 L540.5,467.0 M519.0,461.3 L520.3,464.3 L517.1,469.6 L513.6,477.6 L507.1,482.2 L504.2,484.0 M523.0,476.3 L520.3,483.0 L524.3,490.9 M507.7,490.1 L511.7,490.4 L524.3,490.9 M524.3,490.9 L531.1,486.9 L540.5,484.5 L548.5,483.0 L555.3,483.0 M544.5,473.1 L555.3,483.0 M541.8,462.7 L551.2,469.6 L562.0,471.0 L570.1,469.6 L573.0,471.0 M580.6,437.0 L585.1,448.0 M579.5,458.1 L575.5,467.0 L573.0,471.0 L575.5,482.2 M579.5,458.1 L588.9,457.5 L597.0,462.4 M593.7,467.0 L597.0,471.0 L599.7,472.3 L610.2,475.0 L602.4,483.0 L594.3,485.6 L591.6,485.6 M575.5,482.2 L578.1,484.3 L586.2,486.9 L591.6,485.6 L594.0,485.9 M594.0,485.9 L591.6,488.8 L591.6,500.7 M514.1,509.4 L516.3,508.7 L523.0,506.8 L524.9,502.8 L528.9,497.5 L529.2,492.2 L531.1,486.9 M514.1,512.1 L524.3,516.1 L528.4,517.4 L533.8,514.8 L539.9,515.6 L540.5,522.2 L545.9,525.4 L545.9,530.8 M540.5,525.4 L545.9,525.4 L549.9,527.6 L556.6,529.5 L560.7,531.3 L558.0,520.1 M555.3,483.0 L564.2,486.7 L560.9,499.9 L559.3,508.1 L560.9,513.4 L563.9,518.2 M564.2,486.7 L572.8,485.1 L575.5,482.2 M572.8,485.1 L575.5,492.2 L572.8,498.8 M572.8,498.8 L582.2,505.5 L586.7,508.4 M590.0,524.1 L582.2,527.0 L575.5,526.8 L574.4,526.2 M563.9,518.2 L570.1,521.4 L572.8,521.4 M572.8,521.4 L570.6,525.4 L570.1,533.5 L575.5,541.6 L577.3,535.7 L574.4,526.2 M513.0,542.5 L519.0,542.7 L531.1,543.0 L537.8,544.4 L544.5,543.0 M544.5,543.0 L549.9,543.8 L556.6,540.3 L563.1,537.8 L570.1,540.3 M535.1,544.4 L535.1,555.4 L535.1,563.2 L535.1,573.7 L528.4,574.3 L525.7,574.0 M535.1,563.2 L543.2,564.6 L549.9,565.7 L555.3,559.6 L560.7,555.9 M570.1,540.3 L569.5,548.5 L566.0,556.2 M566.0,556.2 L567.4,563.8 L569.8,568.9 M549.9,543.8 L551.2,548.5 L555.3,554.0 L560.7,555.9 L566.0,556.2 M445.5,472.3 L451.7,469.6 L453.6,473.6 L450.4,477.9 M453.6,473.6 L458.4,476.3 L458.4,479.0 L461.1,484.5 M472.7,482.7 L473.8,475.0 L474.0,471.0 L473.5,467.0 M484.5,480.0 L482.6,475.0 L481.3,467.0 M488.6,479.2 L488.8,472.0 L491.0,465.1 M473.5,467.0 L481.3,467.0 L485.3,465.6 L487.8,463.7 M436.4,463.2 L444.4,462.4 L450.6,463.2 M578.1,394.2 L580.0,394.2 L583.5,394.2 L594.8,392.7 M594.8,392.7 L600.5,393.3 L599.7,385.9 L601.8,385.3 L598.3,380.9 L593.2,379.3 M594.8,392.7 L592.1,401.1 L585.7,404.4 L580.3,407.6 L577.1,406.5 M586.2,408.5 L580.8,410.0 L583.5,412.9 L582.2,414.4 L575.5,416.1 M586.2,408.5 L594.3,411.2 L601.5,416.7 L606.4,417.0 L609.6,418.7 L611.5,418.7 M600.5,393.3 L605.0,397.5 L603.7,401.1 L605.3,405.6 L609.9,408.5 L610.4,412.9 L611.8,414.4 M596.4,452.4 L599.7,449.7 L607.7,450.8 L613.1,446.4 L621.2,445.3 L630.9,442.6 L629.2,435.1 L622.8,434.5 L620.1,430.9 M621.2,445.3 L624.1,451.9 M629.2,435.1 L631.9,431.4 L633.0,428.9 M626.3,392.7 L631.9,390.5 L635.2,389.6 L640.0,392.1 L643.8,394.8 L645.9,394.8 M645.9,394.8 L645.4,401.1 L644.3,404.4 L645.1,410.0 L647.5,410.3 L645.1,414.9 L647.5,420.1 L651.3,422.4 L650.8,424.4 L647.0,428.1 M601.8,385.3 L606.4,387.7 L610.4,389.0 L612.8,389.3 M645.1,414.9 L649.4,416.1 L659.9,414.6 L660.2,411.4 L667.7,408.8 L669.6,403.5 L672.8,401.7 L673.4,396.6 L681.7,393.6 M645.9,394.8 L648.9,399.0 L654.8,395.7 L660.2,392.4 L664.2,393.6 L669.6,392.1 L673.6,390.8 L673.1,393.6 L681.7,393.6 M664.8,432.3 L668.3,430.6 L672.3,430.3 L669.6,425.8 L671.5,420.1 L676.3,414.4 L681.7,411.4 L682.0,407.0 L680.4,401.1 L684.4,398.1 L690.6,398.1 M690.6,398.1 L694.9,407.0 L693.0,410.0 L699.2,413.8 M699.2,413.8 L696.8,417.8 L707.3,421.8 L718.3,424.7 L718.6,420.4 L710.0,418.4 L699.2,413.8 M718.6,420.4 L720.2,422.1 L728.8,423.5 L728.8,420.7 L734.2,418.7 L739.5,416.1 L743.0,419.5 L743.6,423.0 M718.3,424.7 L720.7,428.1 L719.4,431.4 L720.7,437.0 L729.9,440.6 L730.7,437.0 L729.6,430.9 L727.4,428.1 L722.9,425.8 M729.9,440.6 L732.3,435.6 L732.3,431.4 L735.8,428.1 L737.7,423.8 L743.6,423.0 M743.6,423.0 L746.8,421.5 L746.5,428.6 L744.1,431.4 L749.0,436.7 L753.5,438.7 L755.7,435.9 L758.4,435.6 L764.6,433.4 L768.3,434.8 L771.6,438.4 M749.0,436.7 L750.6,441.7 L745.5,443.4 L743.3,446.7 L747.3,452.4 L746.3,457.5 L748.1,463.7 L746.5,469.6 M750.6,441.7 L753.5,443.9 L753.0,449.4 L757.0,448.3 L762.9,451.6 L765.4,455.1 L765.1,458.4 L758.4,458.1 L757.0,463.7 M755.7,435.9 L756.2,439.0 L761.1,441.2 L762.9,446.7 L767.8,452.7 L770.5,456.2 L770.5,460.2 M770.5,460.2 L766.4,464.8 L762.4,468.6 M750.8,479.0 L753.3,481.1 L756.2,479.8 M681.7,393.6 L683.0,389.0 L679.6,385.9 L685.7,383.1 L691.9,379.9 L697.0,377.7 L696.8,374.8 L698.7,368.4 L703.5,367.4 L704.6,361.1 L711.3,361.7 L716.1,354.6 M716.1,354.6 L723.4,359.1 L726.1,365.1 L733.1,368.7 L740.3,375.8 L752.5,376.1 L763.8,379.3 L777.2,376.1 L782.0,372.6 L780.7,370.0 L787.7,368.7 L797.1,363.1 L803.8,362.7 L798.7,358.7 L793.3,359.1 L797.1,352.9 M716.1,354.6 L722.6,351.9 L728.8,349.5 L734.7,349.8 L743.0,352.6 L745.5,344.6 L755.7,345.6 L763.8,350.2 L771.8,354.0 L777.2,354.3 L788.0,350.9 L795.2,352.2 L797.1,352.9 M797.1,352.9 L803.6,351.2 L807.6,339.9 L814.1,339.2 L820.2,341.7 L824.3,352.2 L832.6,355.3 L838.0,359.4 L843.6,357.4 L839.1,368.0 L834.5,368.7 L833.4,373.6 L832.6,376.8 M832.6,376.8 L828.3,378.0 L822.9,378.7 L815.7,384.6 M820.5,391.4 L826.7,388.7 M613.6,363.7 L612.0,360.1 L607.7,354.3 L606.4,357.0 L608.5,350.2 L612.3,349.5 L618.0,345.6 L627.9,348.1 L631.1,349.5 L638.1,348.1 L642.4,348.8 L646.5,348.1 L642.7,344.9 L645.1,343.1 L644.9,337.7 L648.1,337.4 L656.7,335.2 L664.8,333.7 L671.8,333.0 L678.7,339.2 L687.1,337.4 L688.2,339.9 L696.5,348.8 L705.6,348.1 L711.6,353.3 L716.1,354.6 M631.7,380.2 L638.9,376.1 L645.4,370.3 L648.1,373.2 L655.9,372.6 L660.2,378.0 L665.8,382.5 L672.3,377.1 L679.0,376.4 L680.9,374.2 L692.5,375.5 L697.0,377.7 M631.7,380.2 L631.7,368.4 L623.9,367.4 M623.9,379.6 L631.7,380.2 L634.6,380.2 L637.3,376.4 L642.7,380.2 L646.7,380.6 L649.2,384.6 L654.0,387.7 L657.5,389.9 L660.2,392.4 M665.8,382.5 L665.6,385.9 L662.6,386.8 L664.8,387.7 L664.2,393.6 M672.3,377.1 L671.2,380.9 L677.7,382.8 L672.8,384.3 L668.3,384.0 L666.9,385.6 L669.6,386.5 L679.3,386.2 M588.6,373.6 L594.3,374.2 L598.9,375.8 L603.4,376.4 L606.4,378.3 L610.2,380.6 L612.0,378.7 M598.3,380.9 L602.4,380.2 L606.4,381.2 M602.4,380.2 L604.0,381.8 L604.5,385.6 L606.4,387.7 M556.1,312.7 L561.2,308.7 L566.0,302.9 L562.0,299.2 L562.0,294.1 L559.8,289.7 L561.7,282.2 L558.2,279.4 L558.5,276.2 L560.4,273.4 L564.7,272.5 M546.4,290.6 L545.3,281.2 L537.8,276.2 L537.0,275.7 L541.8,277.6 L550.7,275.3 L558.5,276.2 M537.8,276.2 L531.1,279.0 L524.9,283.1 L520.3,290.6 L518.7,296.2 L513.8,304.2 L515.7,309.1 L514.9,314.3 L512.5,317.0 L512.0,318.6 M556.6,316.6 L555.0,320.1 L555.8,323.2 M555.8,323.2 L557.2,329.3 L552.9,331.1 M552.9,331.1 L550.4,334.5 L544.5,337.7 M546.9,322.8 L551.2,324.0 L555.0,324.0 M537.8,328.9 L545.9,328.9 L552.9,331.1 M534.0,335.9 L542.6,335.9 L542.6,333.7 L538.6,332.6 M544.5,337.7 L545.6,342.1 L544.8,346.3 L546.4,349.8 L542.1,354.6 L542.9,358.4 M544.8,346.3 L550.4,344.9 L563.3,347.0 L566.8,344.2 L571.4,343.5 L573.8,347.0 L584.3,351.6 L588.9,352.9 L589.2,358.7 L584.1,361.4 M552.9,331.1 L564.4,331.5 L568.2,337.7 L565.5,340.6 L566.8,344.2 M542.9,358.4 L548.3,359.4 L552.9,357.7 L557.2,357.7 L559.8,360.1 L562.0,363.4 L557.2,366.7 L561.2,367.7 M552.9,357.7 L557.2,365.1 L557.2,366.7 M519.5,337.7 L520.6,342.8 L521.6,348.1 M513.8,350.5 L519.0,348.4 L521.6,348.1 L525.1,349.8 L531.9,353.3 L533.8,352.9 L542.1,354.6 M513.8,350.5 L518.4,355.7 L521.6,355.0 L526.8,356.4 L528.9,358.4 L531.9,359.1 L535.9,357.4 L541.0,357.0 L542.9,358.4 M518.4,355.7 L516.3,360.1 L509.5,360.1 L507.1,360.1 L501.7,359.7 M501.7,359.7 L503.4,355.0 L498.5,353.3 L497.4,348.8 L499.9,344.9 L500.7,339.9 M498.5,353.3 L492.6,351.9 L488.3,347.7 M490.4,346.7 L497.4,348.8 M504.4,334.1 L507.9,334.5 M501.7,359.7 L497.4,363.7 L500.1,365.4 L503.9,363.4 L506.9,363.7 L509.5,362.1 L509.5,360.1 M500.1,365.4 L499.6,368.4 L501.5,372.3 M509.5,362.1 L514.1,361.4 L518.2,363.4 L524.3,362.7 L525.7,359.4 L527.3,358.4 M517.9,366.7 L522.2,366.7 L525.7,363.4 L532.1,365.4 L537.8,364.1 L542.9,358.4 M537.8,364.1 L535.9,364.7 L538.9,367.7 L542.4,370.0 L542.9,371.9 L547.2,372.6 L554.7,371.3 L558.2,372.3 M542.9,371.9 L541.6,377.1 L542.9,380.2 L545.9,379.6 L551.5,379.9 L552.0,379.0 L556.6,378.0 M542.9,380.2 L537.5,381.5 L535.1,385.3 M532.4,368.4 L533.5,371.6 L532.9,373.9 L531.1,376.4 M533.5,378.0 L536.7,378.0 L537.8,380.9 L537.5,381.5 M523.8,367.7 L532.4,368.4 L533.5,371.6 M523.8,367.7 L525.7,371.0 L528.4,374.8 L531.1,376.4 M476.5,373.6 L481.3,375.8 L485.3,376.4 L489.9,376.8 M457.4,378.3 L459.5,378.0 L463.5,378.3 L462.7,381.2 L462.5,385.9 L461.1,390.5 L461.4,393.0 M461.4,337.0 L464.4,337.0 L459.8,333.0 M776.1,490.9 L781.2,492.2 L789.3,492.2 L792.0,486.9 L794.7,484.5 L797.9,485.1 M860.6,503.1 L860.6,520.4" fill="none" stroke="#f6eee4" stroke-width="1.5" stroke-linejoin="round"/>
</svg>
<svg class="map" width="1024" height="700" viewBox="0 0 1024 700"><circle cx="528" cy="278.3" r="56.5" fill="rgb(232,106,88)" fill-opacity="0.76" stroke="#fff" stroke-opacity="0.35" stroke-width="1.2"/><circle cx="516" cy="355.5" r="43.8" fill="rgb(232,106,88)" fill-opacity="0.76" stroke="#fff" stroke-opacity="0.35" stroke-width="1.2"/><circle cx="748" cy="290.5" r="35" fill="rgb(232,106,88)" fill-opacity="0.76" stroke="#fff" stroke-opacity="0.35" stroke-width="1.2"/><circle cx="618.4" cy="408.4" r="36.7" fill="rgb(232,106,88)" fill-opacity="0.76" stroke="#fff" stroke-opacity="0.35" stroke-width="1.2"/><circle cx="771.4" cy="398.7" r="36.7" fill="rgb(232,106,88)" fill-opacity="0.76" stroke="#fff" stroke-opacity="0.35" stroke-width="1.2"/><circle cx="251" cy="452.5" r="45.6" fill="rgb(232,106,88)" fill-opacity="0.76" stroke="#fff" stroke-opacity="0.35" stroke-width="1.2"/><circle cx="538.5" cy="455.4" r="40" fill="rgb(232,106,88)" fill-opacity="0.76" stroke="#fff" stroke-opacity="0.35" stroke-width="1.2"/><circle cx="804" cy="497" r="33.5" fill="rgb(232,106,88)" fill-opacity="0.76" stroke="#fff" stroke-opacity="0.35" stroke-width="1.2"/><circle cx="659.6" cy="585.2" r="42" fill="#7890a5" stroke="#fff" stroke-opacity="0.35" stroke-width="1.2"/></svg>
<div class="t" style="top:264.90px;font:normal bold 22px 'Liberation Serif',serif;color:#2a0808;letter-spacing:1.1px;left:496.50px;-webkit-text-stroke:0.4px #2a0808;">42.3%</div>
<div class="t" style="top:344.20px;font:normal bold 22px 'Liberation Serif',serif;color:#2a0808;letter-spacing:1.12px;left:483.50px;-webkit-text-stroke:0.4px #2a0808;">26.5%</div>
<div class="t" style="top:281.00px;font:normal bold 22px 'Liberation Serif',serif;color:#2a0808;letter-spacing:0.57px;left:720.20px;-webkit-text-stroke:0.4px #2a0808;">15.8%</div>
<div class="t" style="top:397.40px;font:normal bold 22px 'Liberation Serif',serif;color:#2a0808;letter-spacing:0.38px;left:590.00px;-webkit-text-stroke:0.4px #2a0808;">18.6%</div>
<div class="t" style="top:387.30px;font:normal bold 22px 'Liberation Serif',serif;color:#2a0808;letter-spacing:0.38px;left:742.50px;-webkit-text-stroke:0.4px #2a0808;">19.6%</div>
<div class="t" style="top:441.20px;font:normal bold 22px 'Liberation Serif',serif;color:#2a0808;letter-spacing:1.15px;left:223.30px;-webkit-text-stroke:0.4px #2a0808;">29.9%</div>
<div class="t" style="top:440.60px;font:normal bold 22px 'Liberation Serif',serif;color:#2a0808;letter-spacing:0.45px;left:510.70px;-webkit-text-stroke:0.4px #2a0808;">23.7%</div>
<div class="t" style="top:486.10px;font:normal bold 22px 'Liberation Serif',serif;color:#2a0808;letter-spacing:0.7px;left:775.90px;-webkit-text-stroke:0.4px #2a0808;">15.5%</div>
<div class="t" style="top:574.90px;font:normal bold 22px 'Liberation Serif',serif;color:#fff;letter-spacing:1.5px;left:640.00px;-webkit-text-stroke:0.4px #fff;">24%</div>
<div class="t" style="top:249.65px;font:normal bold 17px 'Liberation Serif',serif;color:#161616;letter-spacing:1.0px;left:592.00px;">Страны</div>
<div class="t" style="top:266.05px;font:normal bold 17px 'Liberation Serif',serif;color:#161616;letter-spacing:1.0px;left:592.00px;">Северной</div>
<div class="t" style="top:282.45px;font:normal bold 17px 'Liberation Serif',serif;color:#161616;letter-spacing:1.0px;left:592.00px;">Европы</div>
<div class="t" style="top:347.45px;font:normal bold 17px 'Liberation Serif',serif;color:#161616;letter-spacing:1.0px;left:401.20px;">Европа</div>
<div class="t" style="top:285.45px;font:normal bold 17px 'Liberation Serif',serif;color:#161616;letter-spacing:1.0px;left:792.30px;">Россия</div>
<div class="t" style="top:391.75px;font:normal bold 17px 'Liberation Serif',serif;color:#161616;letter-spacing:2.1px;left:819.00px;">Азия</div>
<div class="t" style="top:441.45px;font:normal bold 17px 'Liberation Serif',serif;color:#161616;letter-spacing:1.0px;left:309.00px;">Америка</div>
<div class="t" style="top:440.85px;font:normal bold 17px 'Liberation Serif',serif;color:#161616;letter-spacing:1.0px;left:423.70px;">Африка</div>
<div class="t" style="top:447.15px;font:normal bold 17px 'Liberation Serif',serif;color:#161616;letter-spacing:1.0px;left:591.80px;">Арабские</div>
<div class="t" style="top:462.85px;font:normal bold 17px 'Liberation Serif',serif;color:#161616;letter-spacing:1.0px;left:591.80px;">страны</div>
<div class="t" style="top:471.85px;font:normal bold 17px 'Liberation Serif',serif;color:#161616;letter-spacing:1.0px;left:848.60px;">Страны</div>
<div class="t" style="top:487.65px;font:normal bold 17px 'Liberation Serif',serif;color:#161616;letter-spacing:1.0px;left:848.60px;">Тихоокеанского</div>
<div class="t" style="top:503.45px;font:normal bold 17px 'Liberation Serif',serif;color:#161616;letter-spacing:1.0px;left:848.60px;">региона</div>
<div class="t" style="top:569.55px;font:normal bold 17px 'Liberation Serif',serif;color:#161616;letter-spacing:1.0px;left:707.40px;">Мир</div>
<div class="t" style="top:586.15px;font:normal bold 17px 'Liberation Serif',serif;color:#161616;letter-spacing:1.0px;left:707.40px;">в целом</div>
<div class="t" style="top:699.43px;font:normal bold 37px 'Liberation Serif',serif;color:#111;left:387.80px;transform-origin:0 0;transform:scaleX(0.938);">ТОП-30 СТРАН</div>
<div class="t" style="top:767.97px;font:normal bold 19px 'Liberation Serif',serif;color:#111;letter-spacing:0.8px;right:855.40px;">Руанда</div>
<div class="t v" style="top:767.16px;font:normal normal 18px 'Liberation Serif',serif;color:#7f8a93;letter-spacing:1.0px;left:463.08px;">61.3</div>
<div class="t v" style="top:783.76px;font:normal normal 18px 'Liberation Serif',serif;color:#f2a262;letter-spacing:1.0px;left:360.02px;">38.5</div>
<div class="t" style="top:807.19px;font:normal bold 19px 'Liberation Serif',serif;color:#111;letter-spacing:0.8px;right:855.40px;">Куба</div>
<div class="t v" style="top:806.38px;font:normal normal 18px 'Liberation Serif',serif;color:#7f8a93;letter-spacing:1.0px;left:426.46px;">53.2</div>
<div class="t" style="top:846.41px;font:normal bold 19px 'Liberation Serif',serif;color:#111;letter-spacing:0.8px;right:855.40px;">Боливия</div>
<div class="t v" style="top:845.60px;font:normal normal 18px 'Liberation Serif',serif;color:#7f8a93;letter-spacing:1.0px;left:426.01px;">53.1</div>
<div class="t v" style="top:862.20px;font:normal normal 18px 'Liberation Serif',serif;color:#f2a262;letter-spacing:1.0px;left:399.34px;">47.2</div>
<div class="t" style="top:885.63px;font:normal bold 19px 'Liberation Serif',serif;color:#111;letter-spacing:0.8px;right:855.40px;">Мексика</div>
<div class="t v" style="top:884.82px;font:normal normal 18px 'Liberation Serif',serif;color:#7f8a93;letter-spacing:1.0px;left:403.86px;">48.2</div>
<div class="t v" style="top:901.42px;font:normal normal 18px 'Liberation Serif',serif;color:#f2a262;letter-spacing:1.0px;left:408.38px;">49.2</div>
<div class="t" style="top:924.85px;font:normal bold 19px 'Liberation Serif',serif;color:#111;letter-spacing:0.8px;right:855.40px;">Гренада</div>
<div class="t v" style="top:924.04px;font:normal normal 18px 'Liberation Serif',serif;color:#7f8a93;letter-spacing:1.0px;left:397.08px;">46.7</div>
<div class="t v" style="top:940.64px;font:normal normal 18px 'Liberation Serif',serif;color:#f2a262;letter-spacing:1.0px;left:325.22px;">30.8</div>
<div class="t" style="top:964.07px;font:normal bold 19px 'Liberation Serif',serif;color:#111;letter-spacing:0.8px;right:855.40px;">Намибия</div>
<div class="t v" style="top:963.26px;font:normal normal 18px 'Liberation Serif',serif;color:#7f8a93;letter-spacing:1.0px;left:394.82px;">46.2</div>
<div class="t v" style="top:979.86px;font:normal normal 18px 'Liberation Serif',serif;color:#f2a262;letter-spacing:1.0px;left:293.58px;">23.8</div>
<div class="t" style="top:1003.29px;font:normal bold 19px 'Liberation Serif',serif;color:#111;letter-spacing:0.8px;right:855.40px;">Швеция</div>
<div class="t v" style="top:1002.48px;font:normal normal 18px 'Liberation Serif',serif;color:#7f8a93;letter-spacing:1.0px;left:394.37px;">46.1</div>
<div class="t" style="top:1042.51px;font:normal bold 19px 'Liberation Serif',serif;color:#111;letter-spacing:0.8px;right:855.40px;">Никарагуа</div>
<div class="t v" style="top:1041.70px;font:normal normal 18px 'Liberation Serif',serif;color:#7f8a93;letter-spacing:1.0px;left:392.56px;">45.7</div>
<div class="t" style="top:1081.73px;font:normal bold 19px 'Liberation Serif',serif;color:#111;letter-spacing:0.8px;right:855.40px;">Коста-Рика</div>
<div class="t v" style="top:1080.92px;font:normal normal 18px 'Liberation Serif',serif;color:#7f8a93;letter-spacing:1.0px;left:392.11px;">45.6</div>
<div class="t" style="top:1120.95px;font:normal bold 19px 'Liberation Serif',serif;color:#111;letter-spacing:-1.5px;right:857.70px;">ЮАР</div>
<div class="t v" style="top:1120.14px;font:normal normal 18px 'Liberation Serif',serif;color:#7f8a93;letter-spacing:1.0px;left:377.65px;">42.4</div>
<div class="t v" style="top:1136.74px;font:normal normal 18px 'Liberation Serif',serif;color:#f2a262;letter-spacing:1.0px;left:345.10px;">35.2</div>
<div class="t" style="top:1160.17px;font:normal bold 19px 'Liberation Serif',serif;color:#111;letter-spacing:0.8px;right:855.40px;">Финляндия</div>
<div class="t v" style="top:1159.36px;font:normal normal 18px 'Liberation Serif',serif;color:#7f8a93;letter-spacing:1.0px;left:375.84px;">42</div>
<div class="t" style="top:1199.39px;font:normal bold 19px 'Liberation Serif',serif;color:#111;letter-spacing:0.8px;right:855.40px;">Сенегал</div>
<div class="t v" style="top:1198.58px;font:normal normal 18px 'Liberation Serif',serif;color:#7f8a93;letter-spacing:1.0px;left:374.94px;">41.8</div>
<div class="t" style="top:1238.61px;font:normal bold 19px 'Liberation Serif',serif;color:#111;letter-spacing:0.8px;right:855.40px;">Норвегия</div>
<div class="t v" style="top:1237.80px;font:normal normal 18px 'Liberation Serif',serif;color:#7f8a93;letter-spacing:1.0px;left:373.13px;">41.4</div>
<div class="t" style="top:1277.83px;font:normal bold 19px 'Liberation Serif',serif;color:#111;letter-spacing:0.8px;right:855.40px;">Франция</div>
<div class="t v" style="top:1277.02px;font:normal normal 18px 'Liberation Serif',serif;color:#7f8a93;letter-spacing:1.0px;left:364.99px;">39.6</div>
<div class="t v" style="top:1293.62px;font:normal normal 18px 'Liberation Serif',serif;color:#f2a262;letter-spacing:1.0px;left:318.44px;">29.3</div>
<div class="t" style="top:1317.05px;font:normal bold 19px 'Liberation Serif',serif;color:#111;letter-spacing:0.8px;right:855.40px;">Мозамбик</div>
<div class="t v" style="top:1316.24px;font:normal normal 18px 'Liberation Serif',serif;color:#7f8a93;letter-spacing:1.0px;left:364.99px;">39.6</div>
<div class="t" style="top:767.97px;font:normal bold 19px 'Liberation Serif',serif;color:#111;letter-spacing:0.8px;right:339.70px;">Испания</div>
<div class="t v" style="top:767.16px;font:normal normal 18px 'Liberation Serif',serif;color:#7f8a93;letter-spacing:1.0px;left:875.43px;">39.1</div>
<div class="t v" style="top:783.76px;font:normal normal 18px 'Liberation Serif',serif;color:#f2a262;letter-spacing:1.0px;left:870.46px;">38</div>
<div class="t" style="top:807.19px;font:normal bold 19px 'Liberation Serif',serif;color:#111;letter-spacing:0.8px;right:339.70px;">Аргентина</div>
<div class="t v" style="top:806.38px;font:normal normal 18px 'Liberation Serif',serif;color:#7f8a93;letter-spacing:1.0px;left:874.53px;">38.9</div>
<div class="t v" style="top:822.98px;font:normal normal 18px 'Liberation Serif',serif;color:#f2a262;letter-spacing:1.0px;left:887.18px;">41.7</div>
<div class="t" style="top:846.41px;font:normal bold 19px 'Liberation Serif',serif;color:#111;letter-spacing:0.8px;right:339.70px;">Эфиопия</div>
<div class="t v" style="top:845.60px;font:normal normal 18px 'Liberation Serif',serif;color:#7f8a93;letter-spacing:1.0px;left:874.08px;">38.8</div>
<div class="t v" style="top:862.20px;font:normal normal 18px 'Liberation Serif',serif;color:#f2a262;letter-spacing:1.0px;left:843.34px;">32</div>
<div class="t" style="top:885.63px;font:normal bold 19px 'Liberation Serif',serif;color:#111;letter-spacing:0.8px;right:339.70px;">Новая Зеландия</div>
<div class="t v" style="top:884.82px;font:normal normal 18px 'Liberation Serif',serif;color:#7f8a93;letter-spacing:1.0px;left:871.82px;">38.3</div>
<div class="t" style="top:924.85px;font:normal bold 19px 'Liberation Serif',serif;color:#111;letter-spacing:0.8px;right:339.70px;">Македония</div>
<div class="t v" style="top:924.04px;font:normal normal 18px 'Liberation Serif',serif;color:#7f8a93;letter-spacing:1.0px;left:871.82px;">38.3</div>
<div class="t" style="top:964.07px;font:normal bold 19px 'Liberation Serif',serif;color:#111;letter-spacing:0.8px;right:339.70px;">Исландия</div>
<div class="t v" style="top:963.26px;font:normal normal 18px 'Liberation Serif',serif;color:#7f8a93;letter-spacing:1.0px;left:870.91px;">38.1</div>
<div class="t" style="top:1003.29px;font:normal bold 19px 'Liberation Serif',serif;color:#111;letter-spacing:0.8px;right:339.70px;">Бельгия</div>
<div class="t v" style="top:1002.48px;font:normal normal 18px 'Liberation Serif',serif;color:#7f8a93;letter-spacing:1.0px;left:870.46px;">38</div>
<div class="t v" style="top:1019.08px;font:normal normal 18px 'Liberation Serif',serif;color:#f2a262;letter-spacing:1.0px;left:924.70px;">50</div>
<div class="t" style="top:1042.51px;font:normal bold 19px 'Liberation Serif',serif;color:#111;letter-spacing:0.8px;right:339.70px;">Эквадор</div>
<div class="t v" style="top:1041.70px;font:normal normal 18px 'Liberation Serif',serif;color:#7f8a93;letter-spacing:1.0px;left:870.46px;">38</div>
<div class="t" style="top:1081.73px;font:normal bold 19px 'Liberation Serif',serif;color:#111;letter-spacing:0.8px;right:339.70px;">Дания</div>
<div class="t v" style="top:1080.92px;font:normal normal 18px 'Liberation Serif',serif;color:#7f8a93;letter-spacing:1.0px;left:867.75px;">37.4</div>
<div class="t" style="top:1120.95px;font:normal bold 19px 'Liberation Serif',serif;color:#111;letter-spacing:0.8px;right:339.70px;">Танзания</div>
<div class="t v" style="top:1120.14px;font:normal normal 18px 'Liberation Serif',serif;color:#7f8a93;letter-spacing:1.0px;left:866.84px;">37.2</div>
<div class="t" style="top:1160.17px;font:normal bold 19px 'Liberation Serif',serif;color:#111;letter-spacing:0.8px;right:339.70px;">Бурунди</div>
<div class="t v" style="top:1159.36px;font:normal normal 18px 'Liberation Serif',serif;color:#7f8a93;letter-spacing:1.0px;left:863.23px;">36.4</div>
<div class="t v" style="top:1175.96px;font:normal normal 18px 'Liberation Serif',serif;color:#f2a262;letter-spacing:1.0px;left:907.52px;">46.2</div>
<div class="t" style="top:1199.39px;font:normal bold 19px 'Liberation Serif',serif;color:#111;letter-spacing:0.8px;right:339.70px;">Нидерланды</div>
<div class="t v" style="top:1198.58px;font:normal normal 18px 'Liberation Serif',serif;color:#7f8a93;letter-spacing:1.0px;left:861.42px;">36</div>
<div class="t v" style="top:1215.18px;font:normal normal 18px 'Liberation Serif',serif;color:#f2a262;letter-spacing:1.0px;left:855.54px;">34.7</div>
<div class="t" style="top:1238.61px;font:normal bold 19px 'Liberation Serif',serif;color:#111;letter-spacing:0.8px;right:339.70px;">Италия</div>
<div class="t v" style="top:1237.80px;font:normal normal 18px 'Liberation Serif',serif;color:#7f8a93;letter-spacing:1.0px;left:860.06px;">35.7</div>
<div class="t v" style="top:1254.40px;font:normal normal 18px 'Liberation Serif',serif;color:#f2a262;letter-spacing:1.0px;left:858.26px;">35.3</div>
<div class="t" style="top:1277.83px;font:normal bold 19px 'Liberation Serif',serif;color:#111;letter-spacing:0.8px;right:339.70px;">Португалия</div>
<div class="t v" style="top:1277.02px;font:normal normal 18px 'Liberation Serif',serif;color:#7f8a93;letter-spacing:1.0px;left:856.00px;">34.8</div>
<div class="t" style="top:1317.05px;font:normal bold 19px 'Liberation Serif',serif;color:#111;letter-spacing:0.8px;right:339.70px;">Беларусь</div>
<div class="t v" style="top:1316.24px;font:normal normal 18px 'Liberation Serif',serif;color:#7f8a93;letter-spacing:1.0px;left:854.64px;">34.5</div>
<div class="t v" style="top:1332.84px;font:normal normal 18px 'Liberation Serif',serif;color:#f2a262;letter-spacing:1.0px;left:836.11px;">30.4</div>
<div class="t" style="top:1406.53px;font:normal bold 37px 'Liberation Serif',serif;color:#111;left:283.40px;transform-origin:0 0;transform:scaleX(0.948);">СТРАНЫ БЫВШЕГО СССР</div>
<div class="t v" style="top:1465.56px;font:normal normal 19px 'Liberation Serif',serif;color:#7f8a93;letter-spacing:1.5px;right:913.50px;">34.5</div>
<div class="t v" style="top:1489.44px;font:normal normal 19px 'Liberation Serif',serif;color:#f2a262;letter-spacing:1.5px;left:113.00px;">30.4</div>
<div class="t" style="top:1685.07px;font:normal bold 19px 'Liberation Serif',serif;color:#111;letter-spacing:1.1px;right:905.40px;transform-origin:100% 16.93px;transform:rotate(-27.5deg);">Беларусь</div>
<div class="t v" style="top:1485.09px;font:normal normal 19px 'Liberation Serif',serif;color:#7f8a93;letter-spacing:1.5px;left:177.80px;transform:translateX(-50%);">31</div>
<div class="t" style="top:1681.07px;font:normal bold 19px 'Liberation Serif',serif;color:#111;letter-spacing:1.1px;right:839.70px;transform-origin:100% 16.93px;transform:rotate(-27.5deg);">Латвия</div>
<div class="t v" style="top:1506.85px;font:normal normal 19px 'Liberation Serif',serif;color:#7f8a93;letter-spacing:1.5px;right:780.00px;">27.1</div>
<div class="t v" style="top:1599.92px;font:normal normal 19px 'Liberation Serif',serif;color:#f2a262;letter-spacing:1.5px;left:247.50px;">10.6</div>
<div class="t" style="top:1684.37px;font:normal bold 19px 'Liberation Serif',serif;color:#111;letter-spacing:1.1px;right:772.30px;transform-origin:100% 16.93px;transform:rotate(-27.5deg);">Казахстан</div>
<div class="t v" style="top:1509.09px;font:normal normal 19px 'Liberation Serif',serif;color:#7f8a93;letter-spacing:1.5px;left:306.50px;transform:translateX(-50%);">26.7</div>
<div class="t" style="top:1682.07px;font:normal bold 19px 'Liberation Serif',serif;color:#111;letter-spacing:1.1px;right:708.90px;transform-origin:100% 16.93px;transform:rotate(-27.5deg);">Эстония</div>
<div class="t v" style="top:1519.69px;font:normal normal 19px 'Liberation Serif',serif;color:#7f8a93;letter-spacing:1.5px;left:361.00px;transform:translateX(-50%);">24.8</div>
<div class="t" style="top:1687.07px;font:normal bold 19px 'Liberation Serif',serif;color:#111;letter-spacing:1.1px;right:663.50px;transform-origin:100% 16.93px;transform:rotate(-27.5deg);">Туркменистан</div>
<div class="t v" style="top:1530.85px;font:normal normal 19px 'Liberation Serif',serif;color:#7f8a93;letter-spacing:1.5px;left:416.00px;transform:translateX(-50%);">22.8</div>
<div class="t" style="top:1681.37px;font:normal bold 19px 'Liberation Serif',serif;color:#111;letter-spacing:1.1px;right:597.90px;transform-origin:100% 16.93px;transform:rotate(-27.5deg);">Молдова</div>
<div class="t v" style="top:1539.22px;font:normal normal 19px 'Liberation Serif',serif;color:#7f8a93;letter-spacing:1.5px;left:470.50px;transform:translateX(-50%);">21.3</div>
<div class="t" style="top:1681.37px;font:normal bold 19px 'Liberation Serif',serif;color:#111;letter-spacing:1.1px;right:548.90px;transform-origin:100% 16.93px;transform:rotate(-27.5deg);">Литва</div>
<div class="t v" style="top:1550.93px;font:normal normal 19px 'Liberation Serif',serif;color:#7f8a93;letter-spacing:1.5px;left:525.50px;transform:translateX(-50%);">19.2</div>
<div class="t" style="top:1681.37px;font:normal bold 19px 'Liberation Serif',serif;color:#111;letter-spacing:1.1px;right:489.70px;transform-origin:100% 16.93px;transform:rotate(-27.5deg);">Кыргызстан</div>
<div class="t v" style="top:1552.05px;font:normal normal 19px 'Liberation Serif',serif;color:#7f8a93;letter-spacing:1.5px;right:436.00px;">19</div>
<div class="t v" style="top:1536.87px;font:normal normal 19px 'Liberation Serif',serif;color:#f2a262;letter-spacing:1.5px;left:592.00px;">21.9</div>
<div class="t" style="top:1683.87px;font:normal bold 19px 'Liberation Serif',serif;color:#111;letter-spacing:1.1px;right:429.10px;transform-origin:100% 16.93px;transform:rotate(-27.5deg);">Таджикистан</div>
<div class="t v" style="top:1557.07px;font:normal normal 19px 'Liberation Serif',serif;color:#7f8a93;letter-spacing:1.5px;left:651.50px;transform:translateX(-50%);">18.1</div>
<div class="t" style="top:1682.77px;font:normal bold 19px 'Liberation Serif',serif;color:#111;letter-spacing:1.1px;right:369.90px;transform-origin:100% 16.93px;transform:rotate(-27.5deg);">Армения</div>
<div class="t v" style="top:1564.33px;font:normal normal 19px 'Liberation Serif',serif;color:#7f8a93;letter-spacing:1.5px;left:701.80px;transform:translateX(-50%);">16.8</div>
<div class="t" style="top:1682.57px;font:normal bold 19px 'Liberation Serif',serif;color:#111;letter-spacing:1.1px;right:312.90px;transform-origin:100% 16.93px;transform:rotate(-27.5deg);">Азербайджан</div>
<div class="t v" style="top:1568.79px;font:normal normal 19px 'Liberation Serif',serif;color:#7f8a93;letter-spacing:1.5px;left:752.20px;transform:translateX(-50%);">16</div>
<div class="t" style="top:1682.57px;font:normal bold 19px 'Liberation Serif',serif;color:#111;letter-spacing:1.1px;right:267.20px;transform-origin:100% 16.93px;transform:rotate(-27.5deg);">Грузия</div>
<div class="t v" style="top:1568.79px;font:normal normal 19px 'Liberation Serif',serif;color:#7f8a93;letter-spacing:1.5px;right:208.50px;">16</div>
<div class="t v" style="top:1564.21px;font:normal normal 19px 'Liberation Serif',serif;color:#f2a262;letter-spacing:1.5px;left:817.00px;">17</div>
<div class="t" style="top:1683.77px;font:normal bold 19px 'Liberation Serif',serif;color:#111;letter-spacing:1.1px;right:202.70px;transform-origin:100% 16.93px;transform:rotate(-27.5deg);">Узбекистан</div>
<div class="t v" style="top:1569.91px;font:normal normal 19px 'Liberation Serif',serif;color:#7f8a93;letter-spacing:1.5px;right:132.50px;">15.8</div>
<div class="t v" style="top:1563.65px;font:normal normal 19px 'Liberation Serif',serif;color:#f2a262;letter-spacing:1.5px;left:895.00px;">17.1</div>
<div class="t" style="top:1684.87px;font:normal bold 19px 'Liberation Serif',serif;color:#111;letter-spacing:1.1px;right:127.50px;transform-origin:100% 16.93px;transform:rotate(-27.5deg);">Россия</div>
<div class="t v" style="top:1589.44px;font:normal normal 19px 'Liberation Serif',serif;color:#7f8a93;letter-spacing:1.5px;left:954.80px;transform:translateX(-50%);">12.3</div>
<div class="t" style="top:1683.07px;font:normal bold 19px 'Liberation Serif',serif;color:#111;letter-spacing:1.1px;right:60.70px;transform-origin:100% 16.93px;transform:rotate(-27.5deg);">Украина</div>
<div class="bx" style="left:59px;top:1797px;width:18px;height:18px;background:#7890a3"></div>
<div class="t" style="top:1796.07px;font:normal bold 19px 'Liberation Serif',serif;color:#111;letter-spacing:0.9px;left:89.00px;">нижняя палата</div>
<div class="bx" style="left:248px;top:1797px;width:18px;height:18px;background:#f39a4b"></div>
<div class="t" style="top:1796.07px;font:normal bold 19px 'Liberation Serif',serif;color:#111;letter-spacing:0.58px;left:276.60px;">верхняя палата</div>
<div class="t" style="top:1853.85px;font:italic bold 17px 'Liberation Serif',serif;color:#111;letter-spacing:0.51px;left:58.60px;">Источник: Межпарламентский союз</div>
<svg class="map" width="1024" height="1927" viewBox="0 0 1024 1927">
<path d="M865.6,1824 C867.5,1832 869,1839 868.5,1846 L864.5,1848 C863.5,1840 864,1832 865.6,1824Z" fill="#f26a2e"/>
<path d="M848,1835 C854,1834.5 861,1838 866,1845.5 L864,1849 C858,1846 852,1841.5 848,1835Z" fill="#e8432b"/>
<path d="M848,1835 C853,1838 858,1841 865,1846 L866,1845.5 C861,1838 854,1834.5 848,1835Z" fill="#f7941d"/>
<path d="M880.5,1842 C878,1848 873,1853 866.5,1857 L865,1853.5 C870,1849 875,1845 880.5,1842Z" fill="#ef4b2a"/>
<path d="M857.5,1857.5 L875.5,1856.5 L873,1862 L858.5,1863.5Z" fill="#f58a25"/>
<path d="M859,1863 L872,1862 C868,1871 864.5,1879 861.8,1887.5 C860.5,1879 859.5,1871 859,1863Z" fill="#ee5a2c"/>
</svg>
<div class="t" style="top:1841.31px;font:normal bold 18px 'Liberation Sans',sans-serif;color:#3d4a50;letter-spacing:1.1px;left:888.00px;">Радио</div>
<div class="t" style="top:1861.91px;font:normal bold 18px 'Liberation Sans',sans-serif;color:#3d4a50;letter-spacing:0.15px;left:888.00px;">Свобода</div>
<div class="bx" style="left:939px;top:1910px;width:85px;height:17px;background:#000"></div>
<div class="t" style="top:1913.65px;font:normal bold 10px 'Liberation Sans',sans-serif;color:#fff;letter-spacing:-0.49px;left:944.00px;">RFE/RL Graphics</div>
</body></html>
